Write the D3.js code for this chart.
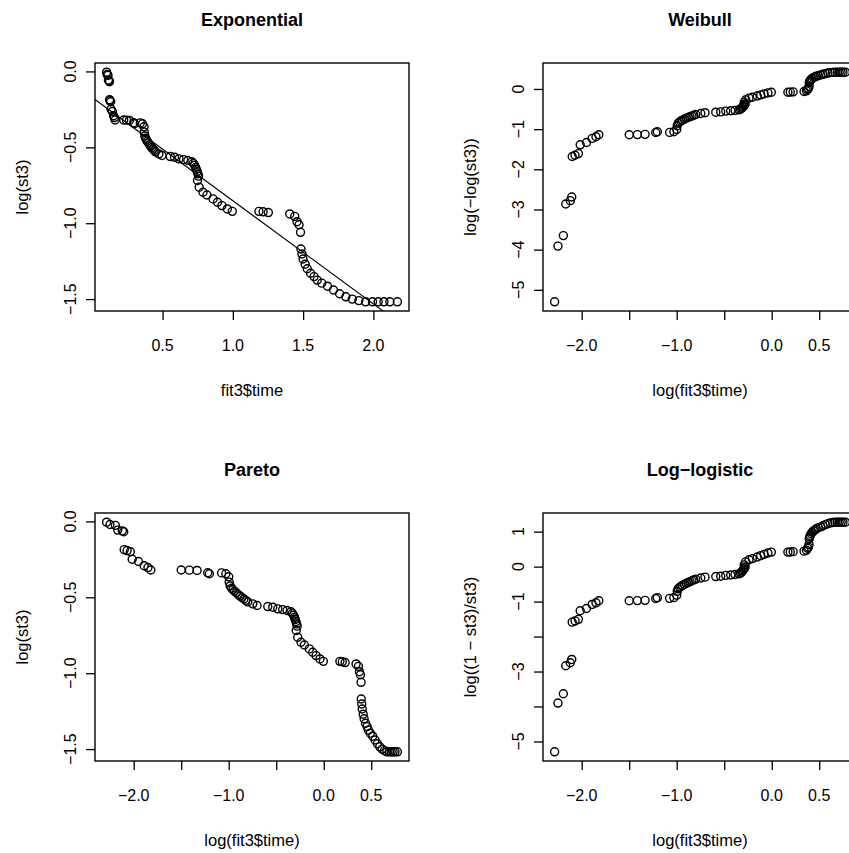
<!DOCTYPE html>
<html>
<head>
<meta charset="utf-8">
<script src="https://cdn.jsdelivr.net/npm/d3@7"></script>
<style>
  body { margin: 0; background: #fff; }
  text { font-family: "Liberation Sans", Arial, sans-serif; fill: #000; }
</style>
</head>
<body>
<div id="chart"></div>
<script>
// log(fit3$time)
const logTime = [
  -2.285, -2.250, -2.193, -2.168, -2.120, -2.105,
  -2.100, -2.070, -2.035, -2.016, -1.950, -1.890, -1.850, -1.820,
  -1.500, -1.414, -1.333, -1.221, -1.204,
  -1.075, -1.030, -1.000, -0.995, -0.985, -0.970, -0.955, -0.940, -0.920,
  -0.900, -0.880, -0.860, -0.840, -0.820, -0.800, -0.747, -0.702,
  -0.589, -0.537, -0.484, -0.432, -0.386, -0.345, -0.330, -0.318, -0.308,
  -0.300, -0.293, -0.286, -0.280, -0.290, -0.274, -0.239, -0.204, -0.152,
  -0.116, -0.081, -0.040, -0.004,
  0.170, 0.195, 0.225, 0.340, 0.365, 0.376, 0.386, 0.393, 0.395, 0.400,
  0.405, 0.415, 0.425, 0.440, 0.456, 0.470, 0.490, 0.515, 0.540, 0.565,
  0.590, 0.615, 0.640, 0.665, 0.690, 0.710, 0.730, 0.750, 0.775
];
// log(st3)
const logSt3 = [
  -0.005, -0.020, -0.026, -0.057, -0.062, -0.068,
  -0.186, -0.192, -0.200, -0.249, -0.264, -0.292, -0.304, -0.320,
  -0.320, -0.321, -0.323, -0.338, -0.345,
  -0.339, -0.345, -0.365, -0.400, -0.425, -0.440, -0.450, -0.460, -0.470,
  -0.482, -0.492, -0.502, -0.511, -0.520, -0.530, -0.543, -0.554,
  -0.561, -0.565, -0.576, -0.581, -0.587, -0.595, -0.605, -0.618, -0.632,
  -0.646, -0.660, -0.675, -0.690, -0.719, -0.763, -0.796, -0.814, -0.840,
  -0.862, -0.884, -0.906, -0.922,
  -0.922, -0.925, -0.930, -0.939, -0.955, -0.990, -1.010, -1.060, -1.170, -1.203,
  -1.236, -1.270, -1.300, -1.330, -1.352, -1.375, -1.395, -1.415, -1.440, -1.465,
  -1.485, -1.500, -1.510, -1.518, -1.518, -1.518, -1.518, -1.518, -1.518
];
// straight line drawn on the Exponential panel
const expLine = { intercept: -0.172, slope: -0.68 };

const expXTicks = [0.5, 1.0, 1.5, 2.0];
const expXLabels = ['0.5', '1.0', '1.5', '2.0'];
const logSYTicks = [0, -0.5, -1.0, -1.5];
const logSYLabels = ['0.0', '−0.5', '−1.0', '−1.5'];
const logXTicks = [-2.0, -1.5, -1.0, -0.5, 0.0, 0.5];
const logXLabels = ['−2.0', '', '−1.0', '', '0.0', '0.5'];
const weibullYTicks = [-5, -4, -3, -2, -1, 0];
const weibullYLabels = ['−5', '−4', '−3', '−2', '−1', '0'];
const llYTicks = [-5, -4, -3, -2, -1, 0, 1];
const llYLabels = ['−5', '', '−3', '', '−1', '0', '1'];

const rows = logTime.map((lt, i) => {
  const s = Math.exp(logSt3[i]);
  return { lt, ls: logSt3[i], time: Math.exp(lt), st3: s };
});

const panels = [
  { title: 'Exponential', xlab: 'fit3$time', ylab: 'log(st3)', col: 0, row: 0,
    x: d => d.time, y: d => d.ls, xt: expXTicks, xl: expXLabels, yt: logSYTicks, yl: logSYLabels, line: true },
  { title: 'Weibull', xlab: 'log(fit3$time)', ylab: 'log(−log(st3))', col: 1, row: 0,
    x: d => d.lt, y: d => Math.log(-d.ls), xt: logXTicks, xl: logXLabels, yt: weibullYTicks, yl: weibullYLabels },
  { title: 'Pareto', xlab: 'log(fit3$time)', ylab: 'log(st3)', col: 0, row: 1,
    x: d => d.lt, y: d => d.ls, xt: logXTicks, xl: logXLabels, yt: logSYTicks, yl: logSYLabels },
  { title: 'Log−logistic', xlab: 'log(fit3$time)', ylab: 'log((1 − st3)/st3)', col: 1, row: 1,
    x: d => d.lt, y: d => Math.log((1 - d.st3) / d.st3), xt: logXTicks, xl: logXLabels, yt: llYTicks, yl: llYLabels }
];

const width = 849, height = 853;
const boxW = 314, boxH = 248;
const origin = { left: 95, top: 63 };
const step = { x: 448, y: 450 };
const tickLen = 9;

// R pads the data range by 4% on each side
function rRange(ext) {
  const pad = (ext[1] - ext[0]) * 0.04;
  return [ext[0] - pad, ext[1] + pad];
}

const svg = d3.select('#chart').append('svg')
  .attr('width', width)
  .attr('height', height);

panels.forEach((p, k) => {
  const g = svg.append('g')
    .attr('transform', `translate(${origin.left + p.col * step.x},${origin.top + p.row * step.y})`);

  const x = d3.scaleLinear().domain(rRange(d3.extent(rows, p.x))).range([0, boxW]);
  const y = d3.scaleLinear().domain(rRange(d3.extent(rows, p.y))).range([boxH, 0]);

  g.append('clipPath').attr('id', 'clip' + k)
    .append('rect').attr('width', boxW).attr('height', boxH);

  // x axis ticks
  g.append('g')
    .attr('transform', `translate(0,${boxH})`)
    .call(d3.axisBottom(x).tickValues(p.xt).tickSize(tickLen).tickFormat(''))
    .call(a => a.select('.domain').remove())
    .call(a => a.selectAll('line').attr('stroke', '#000').attr('stroke-width', 1.3));
  g.append('g').selectAll('text')
    .data(p.xt)
    .enter().append('text')
    .attr('x', d => x(d))
    .attr('y', boxH + 34)
    .attr('dy', '0.35em')
    .attr('text-anchor', 'middle')
    .attr('font-size', '16px')
    .text((d, i) => p.xl[i]);

  // y axis ticks
  g.append('g')
    .call(d3.axisLeft(y).tickValues(p.yt).tickSize(tickLen).tickFormat(''))
    .call(a => a.select('.domain').remove())
    .call(a => a.selectAll('line').attr('stroke', '#000').attr('stroke-width', 1.3));
  g.append('g').selectAll('text')
    .data(p.yt)
    .enter().append('text')
    .attr('transform', d => `translate(-25,${y(d)}) rotate(-90)`)
    .attr('dy', '0.35em')
    .attr('text-anchor', 'middle')
    .attr('font-size', '16px')
    .text((d, i) => p.yl[i]);

  // titles
  g.append('text')
    .attr('x', boxW / 2)
    .attr('y', -43)
    .attr('dy', '0.35em')
    .attr('text-anchor', 'middle')
    .attr('font-size', '18px')
    .attr('font-weight', 'bold')
    .text(p.title);
  g.append('text')
    .attr('x', boxW / 2)
    .attr('y', boxH + 79)
    .attr('dy', '0.35em')
    .attr('text-anchor', 'middle')
    .attr('font-size', '16.5px')
    .text(p.xlab);
  g.append('text')
    .attr('transform', `translate(-73,${boxH / 2}) rotate(-90)`)
    .attr('dy', '0.35em')
    .attr('text-anchor', 'middle')
    .attr('font-size', '16.5px')
    .text(p.ylab);

  const plot = g.append('g').attr('clip-path', `url(#clip${k})`);

  if (p.line) {
    const xd = x.domain();
    plot.append('line')
      .attr('x1', x(xd[0]))
      .attr('y1', y(expLine.intercept + expLine.slope * xd[0]))
      .attr('x2', x(xd[1]))
      .attr('y2', y(expLine.intercept + expLine.slope * xd[1]))
      .attr('stroke', '#000')
      .attr('stroke-width', 1.1);
  }

  plot.selectAll('circle')
    .data(rows)
    .enter().append('circle')
    .attr('cx', d => x(p.x(d)))
    .attr('cy', d => y(p.y(d)))
    .attr('r', 4)
    .attr('fill', 'none')
    .attr('stroke', '#000')
    .attr('stroke-width', 1.4);

  g.append('rect')
    .attr('width', boxW)
    .attr('height', boxH)
    .attr('fill', 'none')
    .attr('stroke', '#000')
    .attr('stroke-width', 1.4);
});
</script>
</body>
</html>
